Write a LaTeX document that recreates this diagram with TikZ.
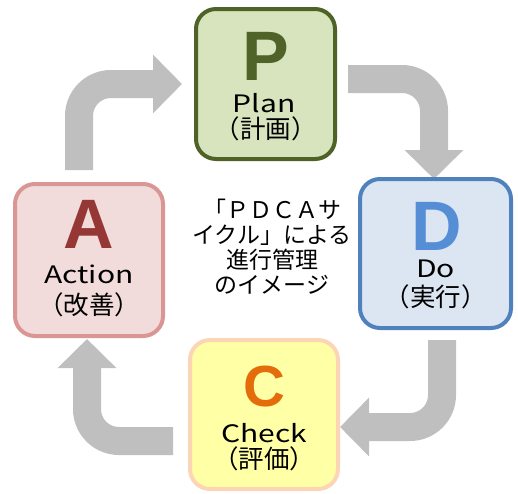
\documentclass[tikz,border=0pt]{standalone}
\usepackage{fontspec}
\setmainfont{Noto Sans CJK JP}
\newfontfamily\letterfont{Liberation Sans}
\newfontfamily\namefont{Noto Sans CJK JP}[FakeStretch=1.25]
\usepackage{xcolor}
\usepackage{tikz}
\usetikzlibrary{arrows.meta, positioning, backgrounds}

\definecolor{planline}{HTML}{4F6228}
\definecolor{planfill}{HTML}{D7E4BD}
\definecolor{doline}{HTML}{4F81BD}
\definecolor{dofill}{HTML}{DCE6F2}
\definecolor{doletter}{HTML}{558ED5}
\definecolor{checkline}{HTML}{FCD5B5}
\definecolor{checkfill}{HTML}{FFFFA6}
\definecolor{checkletter}{HTML}{E46C0A}
\definecolor{actline}{HTML}{D99694}
\definecolor{actfill}{HTML}{F2DCDB}
\definecolor{actletter}{HTML}{953735}
\definecolor{arrowgray}{HTML}{BFBFBF}

\tikzset{
    stagebox/.style={rounded corners=20pt, line width=4pt},
    bigletter/.style={anchor=base, inner sep=0pt, font=\letterfont\bfseries\fontsize{70}{70}\selectfont},
    engname/.style={anchor=base, inner sep=0pt, font=\namefont\fontsize{24}{24}\selectfont},
    jpname/.style={inner sep=0pt, font=\fontsize{25.5}{25.5}\selectfont},
    cyclearrow/.style={draw=arrowgray, line width=28pt, rounded corners=32pt,
        -{Triangle[width=57pt 0, length=29pt 0]}},
}

\begin{document}
\begin{tikzpicture}[x=1pt, y=-1pt]
    \useasboundingbox (0,0) rectangle (518,493);

    % Stage boxes
    \node[stagebox, draw=planline, fill=planfill, minimum width=139pt, minimum height=150pt] (plan) at (265.5,84) {};
    \node[stagebox, draw=doline, fill=dofill, minimum width=151pt, minimum height=149pt] (do) at (435.5,253.5) {};
    \node[stagebox, draw=checkline, fill=checkfill, minimum width=148pt, minimum height=149pt] (chk) at (264,414.5) {};
    \node[stagebox, draw=actline, fill=actfill, minimum width=148pt, minimum height=152pt] (act) at (89,260) {};

    % Letters and names
    \node[bigletter, text=planline] (planL) at (266,80) {P};
    \node[engname] (planE) at (264,112) {Plan};
    \node[jpname] (planJ) at (265.5,129) {（計画）};

    \node[bigletter, text=doletter] (doL) at (437,250) {D};
    \node[engname] (doE) at (435.5,277) {Do};
    \node[jpname] (doJ) at (435.5,297) {（実行）};

    \node[bigletter, text=checkletter, font=\letterfont\bfseries\fontsize{58}{58}\selectfont] (chkL) at (264,406) {C};
    \node[engname] (chkE) at (264,442) {Check};
    \node[jpname] (chkJ) at (264,459) {（評価）};

    \node[bigletter, text=actletter] (actL) at (89,248) {A};
    \node[engname] (actE) at (89,283) {Action};
    \node[jpname] (actJ) at (89,305) {（改善）};

    % Centre caption
    \node[align=center, font=\fontsize{23}{25}\selectfont] (cycletext) at (272,247)
        {「ＰＤＣＡサ\\イクル」による\\進行管理\\のイメージ};

    % Bent arrows round the cycle
    \begin{scope}[on background layer]
        \draw[cyclearrow] ([shift={(-10pt,12pt)}]act.north) |- ([xshift=-12pt]plan.west);
        \draw[cyclearrow] ([shift={(11pt,5pt)}]plan.east) -| ([shift={(-1.5pt,-2pt)}]do.north);
        \draw[cyclearrow] ([shift={(6.5pt,-10pt)}]do.south) |- ([yshift=-12.5pt]chk.east);
        \draw[cyclearrow] ([shift={(-15pt,-26.5pt)}]chk.west) -| ([shift={(-2pt,-1pt)}]act.south);
    \end{scope}
\end{tikzpicture}
\end{document}
